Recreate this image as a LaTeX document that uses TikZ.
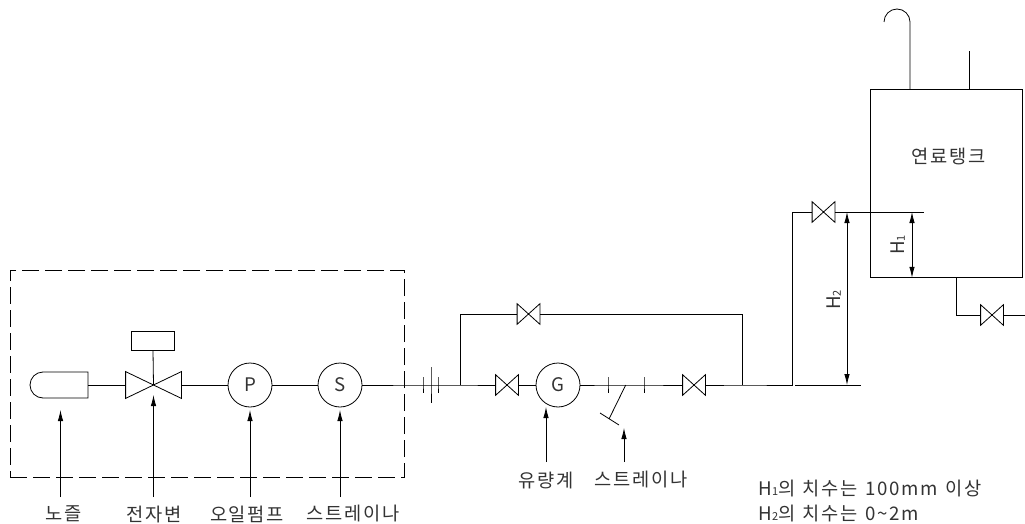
\documentclass[tikz,border=0pt]{standalone}
\usepackage{fontspec}
\setmainfont[LetterSpace=9,WordSpace=1.3]{Noto Sans CJK KR}
\newcommand{\subdigit}[1]{{\fontsize{11}{11}\selectfont #1}}
\usetikzlibrary{arrows.meta,shapes.misc}

\begin{document}
\begin{tikzpicture}[
  x=1pt, y=-1pt,
  line width=0.8pt,
  every node/.style={text=black!80, font=\fontsize{18.7}{25}\selectfont},
  meter/.style={circle, draw, minimum size=44pt, inner sep=0pt},
  valve/.style={minimum width=#1, minimum height=#1*0.9, inner sep=0pt, append after command={
    \pgfextra{\draw (\tikzlastnode.north west) -- (\tikzlastnode.south east) -- (\tikzlastnode.north east) -- (\tikzlastnode.south west) -- cycle;}}},
  valve/.default=22pt,
  pointer/.style={-{Latex[length=11pt,width=5.5pt]}},
  dimline/.style={{Latex[length=11pt,width=5.5pt]}-{Latex[length=11pt,width=5.5pt]}}
]
\useasboundingbox (0,0) rectangle (1025,524);

% Control unit
\node[draw, dash pattern=on 17pt off 6pt, minimum width=394pt, minimum height=207pt, inner sep=0pt] (unit) at (207,373.5) {};
\node[rounded rectangle, rounded rectangle right arc=none, draw, minimum width=58pt, minimum height=26pt, inner sep=0pt] (nozzle) at (59,385) {};
\node[valve=55pt, minimum height=26pt] (solvalve) at (153.5,385) {};
\node[draw, minimum width=43.5pt, minimum height=18.5pt, inner sep=0pt] (coil) at (153,341) {};
\node[meter] (pump) at (250,385) {P};
\node[meter] (sensor) at (340,385) {S};

% Main line
\coordinate (unionL) at (423,385);
\coordinate (unionM) at (431,385);
\coordinate (unionR) at (438,385);
\coordinate (teeL) at (460,385);
\node[valve] (valveA) at (507,385) {};
\node[meter] (gauge) at (558,385) {G};
\coordinate (flangeL) at (608,385);
\coordinate (strainTop) at (625.7,385);
\coordinate (flangeR) at (644,385);
\node[valve] (valveB) at (694,385) {};
\coordinate (teeR) at (742,385);
\coordinate (riserBase) at (792.5,385);

% Bypass
\coordinate (bypassL) at (460,314);
\node[valve] (valveC) at (528.5,314) {};
\coordinate (bypassR) at (742,314);

% Tank
\node[draw, minimum width=151.5pt, minimum height=188.5pt, inner sep=0pt] (tank) at (946.5,183.5) {};
\node (tanklabel) at (948.5,156) {연료탱크};
\coordinate (riserTop) at (792.5,212);
\node[valve] (valveD) at (823.5,212) {};
\coordinate (levelEnd) at (924,212);
\coordinate (ventFoot) at (910,89.25);
\coordinate (ventBend) at (910,22);
\coordinate (fillFoot) at (969,89.25);
\coordinate (fillEnd) at (969,51);
\coordinate (drainFoot) at (956,277.75);
\coordinate (drainBend) at (956,315);
\node[valve] (valveE) at (992,315) {};
\coordinate (drainEnd) at (1025,315);

% Pipes
\draw (nozzle.east) -- (solvalve.west);
\draw (solvalve.east) -- (pump);
\draw (pump) -- (sensor);
\draw (sensor) -- (unionL) -- (unionM) -- (unionR) -- (teeL) -- (valveA.west);
\draw (valveA.east) -- (gauge);
\draw (gauge) -- (flangeL) -- (strainTop) -- (flangeR) -- (valveB.west);
\draw (valveB.east) -- (teeR) -- (riserBase) -- (riserTop) -- (valveD.west);
\draw (valveD.east) -- (levelEnd);
\draw (teeL) -- (bypassL) -- (valveC.west);
\draw (valveC.east) -- (bypassR) -- (teeR);
\draw (solvalve.center) -- (coil.south);
\draw (ventFoot) -- (ventBend) arc[start angle=0, end angle=180, radius=13pt];
\draw (fillFoot) -- (fillEnd);
\draw (drainFoot) -- (drainBend) -- (valveE.west);
\draw (valveE.east) -- (drainEnd);

% Union and flange ticks
\draw (423,377) -- (unionL) -- (423,393);
\draw (431,367) -- (unionM) -- (431,403);
\draw (438,377) -- (unionR) -- (438,393);
\draw (608,377) -- (flangeL) -- (608,393);
\draw (644,377) -- (flangeR) -- (644,393);

% Strainer stub
\coordinate (strainFoot) at (609,419);
\coordinate (strainCapA) at (600,413);
\coordinate (strainCapB) at (619,425);
\draw (strainTop) -- (strainFoot);
\draw (strainCapA) -- (strainCapB);

% Labels
\node (lblnozzle) at (64,514) {노즐};
\node (lblvalve) at (154,514) {전자변};
\node (lblpump) at (247,514) {오일펌프};
\node (lblstrainA) at (353,514) {스트레이나};
\node (lblgauge) at (546,480) {유량계};
\node (lblstrainB) at (641,480) {스트레이나};
\node[align=left, anchor=west, inner sep=0pt] (note) at (758,501) {H\subdigit{1}의 치수는 100mm 이상\\H\subdigit{2}의 치수는 0\textasciitilde 2m};

% Pointers
\foreach \name/\px/\tipy/\basey in {a/60.5/410/497, b/153.5/395/497, c/250/410/497, d/340/410/497, e/546/407/462, f/624/428/462} {
  \coordinate (base\name) at (\px,\basey);
  \coordinate (tip\name) at (\px,\tipy);
  \draw[pointer] (base\name) -- (tip\name);
}

% Dimensions
\coordinate (dimTopA) at (912,212);
\coordinate (dimBotA) at (912,277.75);
\coordinate (dimTopB) at (847,212);
\coordinate (dimBotB) at (847,385);
\coordinate (baseL) at (795,385);
\coordinate (baseR) at (861,385);
\draw (baseL) -- (baseR);
\draw[dimline] (dimTopA) -- (dimBotA);
\draw[dimline] (dimTopB) -- (dimBotB);
\node[rotate=90] (lblhone) at (898,245) {H\subdigit{1}};
\node[rotate=90] (lblhtwo) at (834,300) {H\subdigit{2}};

\end{tikzpicture}
\end{document}
